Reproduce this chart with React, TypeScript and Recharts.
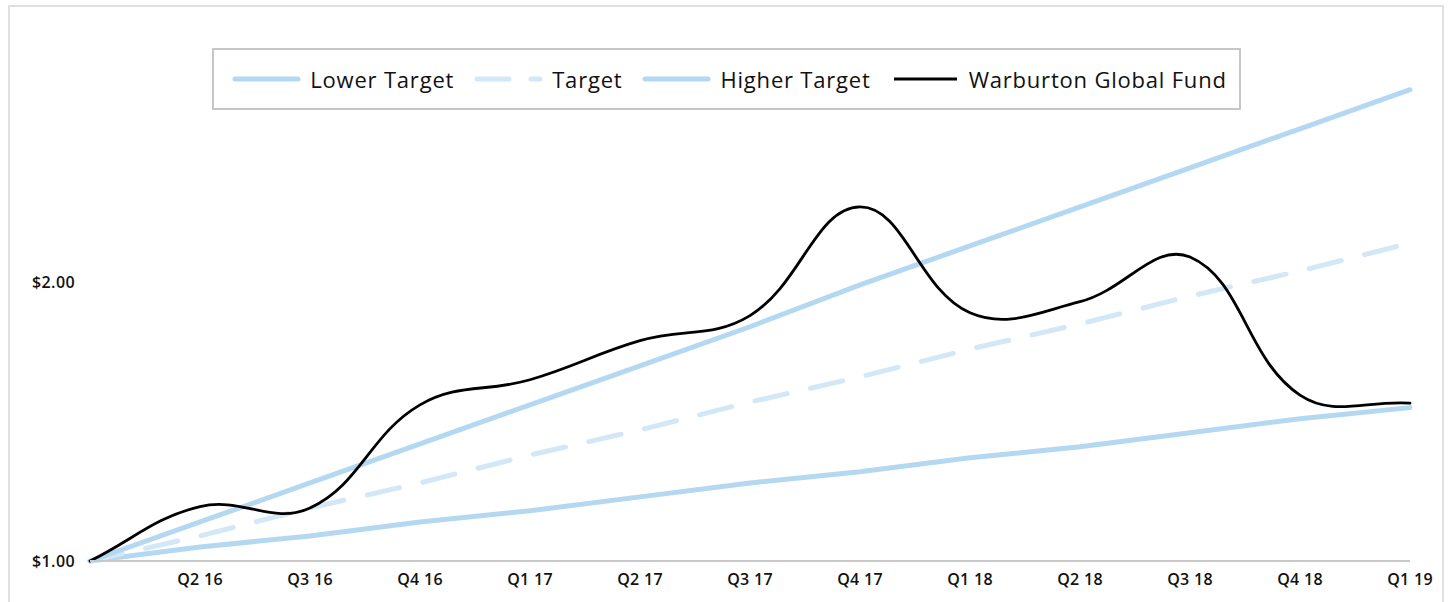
import React from 'react';
import { LineChart, Line, XAxis, YAxis, Legend } from 'recharts';

const quarters = ['Q1 16', 'Q2 16', 'Q3 16', 'Q4 16', 'Q1 17', 'Q2 17', 'Q3 17', 'Q4 17', 'Q1 18', 'Q2 18', 'Q3 18', 'Q4 18', 'Q1 19'];
const lowerTarget = [1.0, 1.05, 1.09, 1.14, 1.18, 1.23, 1.28, 1.32, 1.37, 1.41, 1.46, 1.51, 1.55];
const target = [1.0, 1.09, 1.19, 1.28, 1.38, 1.47, 1.57, 1.66, 1.76, 1.85, 1.95, 2.04, 2.14];
const higherTarget = [1.0, 1.14, 1.28, 1.42, 1.56, 1.7, 1.84, 1.99, 2.13, 2.27, 2.41, 2.55, 2.69];
const fund = [1.0, 1.195, 1.19, 1.56, 1.65, 1.79, 1.88, 2.27, 1.89, 1.93, 2.09, 1.595, 1.566];
const yTicks = [1, 2];

const BLUE = '#b4d8f1';
const LIGHT_BLUE = '#d3e7f6';
const FONT = '"Open Sans", sans-serif';

// tension spline (control points from neighbour distances), used for the fund line
function tensionCurve(context: any) {
  let pts: [number, number][] = [];
  const t = 0.4;
  return {
    areaStart() {},
    areaEnd() {},
    lineStart() {
      pts = [];
    },
    point(x: number, y: number) {
      pts.push([+x, +y]);
    },
    lineEnd() {
      if (!pts.length) return;
      const n = pts.length;
      const cps = pts.map((cur, i) => {
        const prev = pts[i - 1] || cur;
        const next = pts[i + 1] || cur;
        const d01 = Math.hypot(cur[0] - prev[0], cur[1] - prev[1]);
        const d12 = Math.hypot(next[0] - cur[0], next[1] - cur[1]);
        const sum = d01 + d12 || 1;
        const fa = (t * d01) / sum;
        const fb = (t * d12) / sum;
        return {
          before: [cur[0] - fa * (next[0] - prev[0]), cur[1] - fa * (next[1] - prev[1])],
          after: [cur[0] + fb * (next[0] - prev[0]), cur[1] + fb * (next[1] - prev[1])],
        };
      });
      context.moveTo(pts[0][0], pts[0][1]);
      for (let i = 1; i < n; i++) {
        const a = cps[i - 1].after;
        const b = cps[i].before;
        context.bezierCurveTo(a[0], a[1], b[0], b[1], pts[i][0], pts[i][1]);
      }
    },
  };
}

const series = [
  { key: 'lower', name: 'Lower Target', color: BLUE, width: 5, dash: undefined as string | undefined },
  { key: 'target', name: 'Target', color: LIGHT_BLUE, width: 5, dash: '33 24' },
  { key: 'higher', name: 'Higher Target', color: BLUE, width: 5, dash: undefined },
  { key: 'fund', name: 'Warburton Global Fund', color: '#000000', width: 2.8, dash: undefined },
];

const data = quarters.map((q, i) => ({
  quarter: q,
  lower: lowerTarget[i],
  target: target[i],
  higher: higherTarget[i],
  fund: fund[i],
}));

function LegendBox() {
  return (
    <div
      style={{
        boxSizing: 'border-box',
        width: 1029,
        height: 62,
        border: '2px solid #c6c6c6',
        display: 'flex',
        alignItems: 'center',
        justifyContent: 'center',
        gap: 20,
        paddingLeft: 6,
        fontFamily: FONT,
        fontSize: 22,
        fontWeight: 500,
        letterSpacing: 0.8,
        color: '#111',
      }}
    >
      {series.map((s) => (
        <div key={s.key} style={{ display: 'flex', alignItems: 'center', gap: 8 }}>
          <svg width={70} height={10}>
            <line
              x1={3}
              y1={5}
              x2={66}
              y2={5}
              stroke={s.color}
              strokeWidth={s.key === 'fund' ? 3 : 5}
              strokeLinecap={s.key === 'fund' ? 'butt' : 'round'}
              strokeDasharray={s.dash ? '32 22' : undefined}
            />
          </svg>
          <span>{s.name}</span>
        </div>
      ))}
    </div>
  );
}

export default function App() {
  return (
    <>
      <style>{'html, body { margin: 0; overflow: hidden; }'}</style>
      <div
        style={{
          width: 1432,
          height: 600,
          border: '2px solid #e0e0e0',
          margin: '5px 0 0 8px',
          position: 'relative',
          background: '#fff',
        }}
      >
        <LineChart width={1432} height={600} data={data} margin={{ top: 4, right: 32, left: 0, bottom: 16 }}>
          <XAxis
            dataKey="quarter"
            height={30}
            axisLine={{ stroke: '#c8c8c8', strokeWidth: 2 }}
            tickLine={false}
            tickSize={0}
            tickMargin={13}
            interval={0}
            tickFormatter={(v: string, i: number) => (i === 0 ? '' : v)}
            tick={{ fill: '#111', fontSize: 16, fontWeight: 600, fontFamily: FONT, letterSpacing: 0.3 }}
          />
          <YAxis
            width={80}
            domain={[1, 2.75]}
            ticks={yTicks}
            axisLine={false}
            tickLine={false}
            tickSize={0}
            tickMargin={15}
            tickFormatter={(v: number) => `$${v.toFixed(2)}`}
            tick={{ fill: '#111', fontSize: 16, fontWeight: 600, fontFamily: FONT, letterSpacing: 0.4 }}
          />
          <Legend
            verticalAlign="top"
            content={() => <LegendBox />}
            wrapperStyle={{ position: 'absolute', left: 202, top: 41, width: 1029, height: 62 }}
          />
          {series.map((s) => (
            <Line
              key={s.key}
              type={s.key === 'fund' ? (tensionCurve as any) : 'linear'}
              dataKey={s.key}
              name={s.name}
              stroke={s.color}
              strokeWidth={s.width}
              strokeDasharray={s.dash}
              strokeLinecap="round"
              dot={false}
              activeDot={false}
              isAnimationActive={false}
            />
          ))}
        </LineChart>
      </div>
    </>
  );
}
